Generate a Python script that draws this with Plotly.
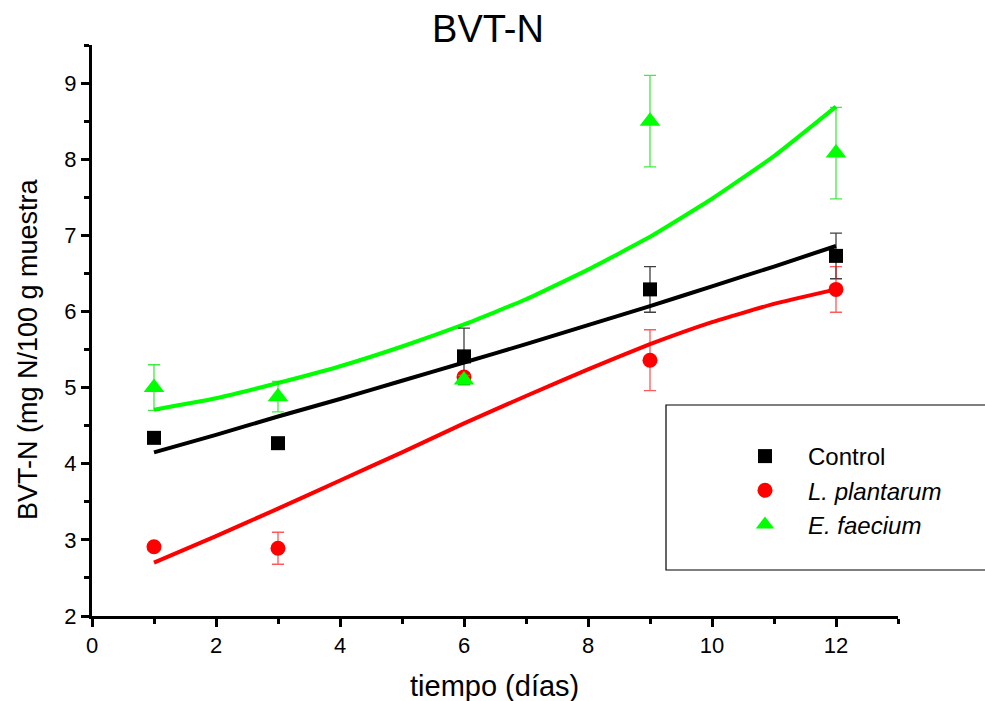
import plotly.graph_objects as go

days = [1, 3, 6, 9, 12]

control = [4.34, 4.27, 5.41, 6.29, 6.73]
control_err = [0.0, 0.06, 0.37, 0.30, 0.30]
plantarum = [2.91, 2.89, 5.14, 5.36, 6.29]
plantarum_err = [0.0, 0.21, 0.05, 0.40, 0.30]
faecium = [5.00, 4.88, 5.10, 8.50, 8.08]
faecium_err = [0.30, 0.20, 0.06, 0.60, 0.60]

# fitted curves (values at each day)
fit_x = [1, 2, 3, 4, 5, 6, 7, 8, 9, 10, 11, 12]
fit_control = [4.15, 4.38, 4.62, 4.85, 5.09, 5.33, 5.57, 5.82, 6.07, 6.33, 6.59, 6.86]
fit_plantarum = [2.70, 3.05, 3.41, 3.78, 4.15, 4.53, 4.89, 5.24, 5.57, 5.86, 6.10, 6.29]
fit_faecium = [4.71, 4.86, 5.06, 5.28, 5.54, 5.83, 6.16, 6.55, 6.98, 7.48, 8.04, 8.69]

FONT = "Liberation Sans, Arial, sans-serif"

fig = go.Figure()

for fy, col in [(fit_faecium, "#00ff00"), (fit_control, "#000000"), (fit_plantarum, "#ff0000")]:
    fig.add_trace(go.Scatter(x=fit_x, y=fy, mode="lines",
                             line=dict(color=col, width=4, shape="spline", smoothing=0.4),
                             showlegend=False, hoverinfo="skip"))

fig.add_trace(go.Scatter(
    x=days, y=control, mode="markers", name="Control",
    marker=dict(symbol="square", size=14, color="black"),
    error_y=dict(type="data", array=control_err, color="rgba(0,0,0,0.75)", thickness=1.3, width=6)))
fig.add_trace(go.Scatter(
    x=days, y=plantarum, mode="markers", name="<i>L. plantarum</i>",
    marker=dict(symbol="circle", size=15, color="#ff0000"),
    error_y=dict(type="data", array=plantarum_err, color="rgba(255,0,0,0.65)", thickness=1.3, width=6)))
fig.add_trace(go.Scatter(
    x=days, y=faecium, mode="markers", name="<i>E. faecium</i>",
    marker=dict(symbol="triangle-up", size=18, color="#00ff00"),
    error_y=dict(type="data", array=faecium_err, color="rgba(0,230,0,0.75)", thickness=1.3, width=6)))

# legend frame
fig.add_shape(type="rect", xref="paper", yref="paper",
              x0=(666 - 92) / 806, x1=(990 - 92) / 806,
              y0=(616 - 570) / 571, y1=(616 - 405) / 571,
              line=dict(color="black", width=1.2), fillcolor="rgba(0,0,0,0)", layer="above")

fig.update_layout(
    width=985, height=701,
    margin=dict(l=92, r=87, t=45, b=85),
    paper_bgcolor="white", plot_bgcolor="white",
    font=dict(family=FONT, color="black"),
    title=dict(text="BVT-N", x=488 / 985, xanchor="center", xref="container",
               y=1 - 29 / 701, yanchor="middle", yref="container",
               font=dict(size=38, family=FONT, color="black")),
    showlegend=True,
    legend=dict(x=(722 - 92) / 806, y=(616 - 434) / 571, xanchor="left", yanchor="top",
                bgcolor="rgba(0,0,0,0)", borderwidth=0, itemwidth=76,
                font=dict(size=24, family=FONT, color="black"), tracegroupgap=0),
    xaxis=dict(range=[0, 13], tickmode="array", tickvals=[0, 2, 4, 6, 8, 10, 12],
               showgrid=False, zeroline=False, showline=True, linecolor="black", linewidth=3,
               ticks="outside", ticklen=8, tickwidth=3, tickcolor="black",
               minor=dict(dtick=1, ticks="outside", ticklen=5, tickwidth=3, tickcolor="black", showgrid=False),
               tickfont=dict(size=22, family=FONT, color="black")),
    yaxis=dict(range=[2, 9.5], tickmode="array", tickvals=[2, 3, 4, 5, 6, 7, 8, 9],
               showgrid=False, zeroline=False, showline=True, linecolor="black", linewidth=3,
               ticks="outside", ticklen=8, tickwidth=3, tickcolor="black",
               minor=dict(dtick=0.5, ticks="outside", ticklen=5, tickwidth=3, tickcolor="black", showgrid=False),
               tickfont=dict(size=22, family=FONT, color="black")),
    annotations=[
        dict(text="tiempo (días)", xref="paper", yref="paper",
             x=(494 - 92) / 806, y=(616 - 686) / 571, xanchor="center", yanchor="middle",
             showarrow=False, font=dict(size=29, family=FONT, color="black")),
        dict(text="BVT-N (mg N/100 g muestra", xref="paper", yref="paper",
             x=(28 - 92) / 806, y=(616 - 349) / 571, xanchor="center", yanchor="middle",
             textangle=-90, showarrow=False, font=dict(size=27, family=FONT, color="black")),
    ],
)

fig.write_html("out.html")
